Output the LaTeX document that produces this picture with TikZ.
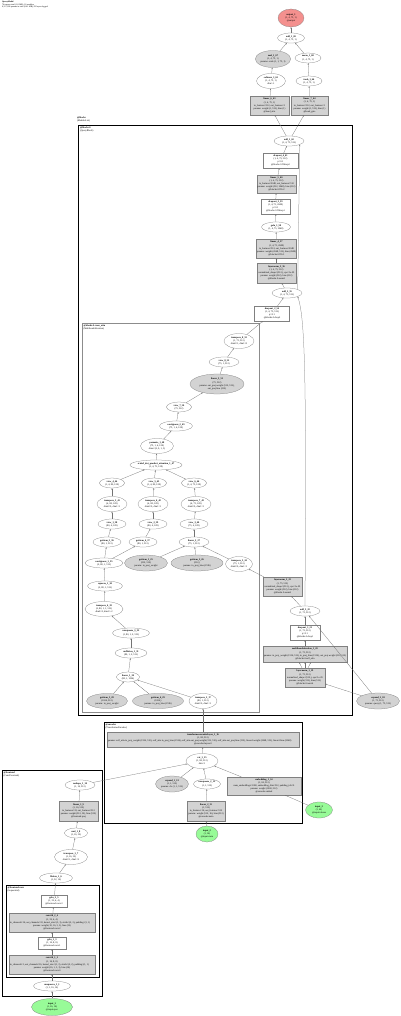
\documentclass[tikz,border=0pt]{standalone}
\usepackage{fontspec}
\setmainfont{Liberation Serif}
\usetikzlibrary{arrows.meta,positioning,shapes.geometric}
\definecolor{parfill}{HTML}{D3D3D3}
\definecolor{infill}{HTML}{98FB98}
\definecolor{outfill}{HTML}{F4908E}
\newcommand{\gvfont}{\fontsize{2.4}{3.1}\selectfont}

\begin{document}
\begin{tikzpicture}[x=1pt, y=-1pt,
    op/.style={ellipse, draw=black!50, line width=0.25pt, inner sep=0pt,
                align=center, font=\gvfont},
    parop/.style={op, fill=parfill},
    inop/.style={op, fill=infill},
    outop/.style={op, fill=outfill},
    mod/.style={rectangle, draw=black!50, line width=0.25pt, inner sep=0.6pt,
                align=center, font=\gvfont},
    parmod/.style={mod, fill=parfill},
    sz/.style 2 args={minimum width=#1pt, minimum height=#2pt},
    modbox/.style={draw=black, line width=0.7pt},
    clabel/.style={anchor=north west, align=left, inner sep=0.4pt, font=\gvfont},
    arr/.style={-{Stealth[length=1.6pt, width=1.2pt]}, line width=0.25pt, draw=black!55},
]
\fill[white] (0,0) rectangle (400,1016);
\useasboundingbox (0,0) rectangle (400,1016);

% --- Header ---
\node[clabel, font=\fontsize{2.1}{2.4}\selectfont] (title) at (1.5,0.8)
  {\textbf{QueryModel}\\70 tensors total (1.8 MB), 12 modules\\6,317,186 params in total (24.1 MB), 92 layers logged};

% --- Module boxes ---
\draw[modbox, double, double distance=0.7pt, line width=0.45pt] (75.5,115.5) rectangle (354.5,718.5);
\node[clabel] (lblblocks) at (76.5,116.5) {\textbf{@blocks}\\(ModuleList)};
\draw[modbox] (78.5,125) rectangle (352,715);
\node[clabel] (lblblock) at (79.5,126) {\textbf{@blocks.0}\\(QueryBlock)};
\draw[modbox, draw=black!45] (82,323) rectangle (259,712);
\node[clabel] (lblattn) at (83,324) {\textbf{@blocks.0.cross\_attn}\\(MultiheadAttention)};
\draw[modbox] (104,722) rectangle (302,823);
\node[clabel] (lblenc) at (105,723) {\textbf{@encoder}\\(TransformerEncoder)};
\draw[modbox] (2,770) rectangle (102,996);
\node[clabel] (lblfront) at (3,771) {\textbf{@frontend}\\(ConvFrontend)};
\draw[modbox] (6,885) rectangle (99,977);
\node[clabel] (lblconv) at (7,886) {\textbf{@frontend.conv}\\(Sequential)};

% --- Output heads ---
\node[outop, sz={26}{18}] (out1) at (291,18) {\textbf{output\_1}\\(1, 4, 75, 1)\\@output};
\node[op, sz={27}{10}] (add69) at (291,38) {\textbf{add\_1\_69}\\(1, 4, 75, 1)};
\node[parop, sz={33}{17}] (mul67) at (273,59) {\textbf{mul\_1\_67}\\(1, 4, 75, 1)\\params: scale (1, 1, 75, 1)};
\node[op, sz={26}{10}] (mean68) at (308,58) {\textbf{mean\_1\_68}\\(1, 4, 75, 1)};
\node[op, sz={29}{15}] (soft65) at (271,81) {\textbf{softmax\_1\_65}\\(1, 4, 75, 1)\\dim=-1};
\node[op, sz={26}{10}] (tanh66) at (309,81) {\textbf{tanh\_1\_66}\\(1, 4, 75, 1)};
\node[parmod, sz={39}{19}] (lin63) at (269.5,105.5) {\textbf{linear\_6\_63}\\(1, 4, 75, 1)\\in\_features=512, out\_features=1\\params: weight (1, 512), bias (1)\\@head\_attn};
\node[parmod, sz={37}{19}] (lin64) at (309.5,105.5) {\textbf{linear\_7\_64}\\(1, 4, 75, 1)\\in\_features=512, out\_features=1\\params: weight (1, 512), bias (1)\\@head\_gate};

% --- Feed-forward part of the block ---
\node[op, sz={30}{10}] (add62) at (289,141) {\textbf{add\_1\_62}\\(1, 4, 75, 512)};
\node[mod, sz={35}{15}] (drop61) at (280.5,160.5) {\textbf{dropout\_4\_61}\\(1, 4, 75, 512)\\p=0.1\\@blocks.0.ff.drop2};
\node[parmod, sz={39}{18}] (lin60) at (276.5,184) {\textbf{linear\_5\_60}\\(1, 4, 75, 512)\\in\_features=2048, out\_features=512\\params: weight (512, 2048), bias (512)\\@blocks.0.ff.fc2};
\node[mod, sz={29}{15}] (drop59) at (275.5,206.5) {\textbf{dropout\_3\_59}\\(1, 4, 75, 2048)\\p=0.1\\@blocks.0.ff.drop1};
\node[op, sz={29}{10}] (gelu58) at (276,227) {\textbf{gelu\_1\_58}\\(1, 4, 75, 2048)};
\node[parmod, sz={39}{19}] (lin57) at (276.5,248.5) {\textbf{linear\_4\_57}\\(1, 4, 75, 2048)\\in\_features=512, out\_features=2048\\params: weight (2048, 512), bias (2048)\\@blocks.0.ff.fc1};
\node[parmod, sz={39}{20}] (ln56) at (276.5,273) {\textbf{layernorm\_3\_56}\\(1, 4, 75, 512)\\normalized\_shape=(512,), eps=1e-05\\params: weight (512), bias (512)\\@blocks.0.norm3};
\node[op, sz={30}{10}] (add55) at (287,293) {\textbf{add\_2\_55}\\(1, 4, 75, 512)};
\node[mod, sz={35}{15}] (drop54) at (272,313.5) {\textbf{dropout\_2\_54}\\(1, 4, 75, 512)\\p=0.1\\@blocks.0.drop2};

% --- Cross attention ---
\node[op, sz={30}{15}] (tr53) at (239,341) {\textbf{transpose\_8\_53}\\(1, 75, 512)\\dim0=1, dim1=0};
\node[op, sz={30}{10}] (view52) at (224,362) {\textbf{view\_8\_52}\\(75, 1, 512)};
\node[parop, sz={54}{20}] (lin51) at (217,384) {\textbf{linear\_3\_51}\\(75, 512)\\params: out\_proj.weight (512, 512),\\out\_proj.bias (512)};
\node[op, sz={25}{10}] (view50) at (179,407) {\textbf{view\_7\_50}\\(75, 512)};
\node[op, sz={33}{10}] (cont49) at (176,426) {\textbf{contiguous\_2\_49}\\(75, 1, 4, 128)};
\node[op, sz={33}{15}] (perm48) at (157,446) {\textbf{permute\_1\_48}\\(75, 1, 4, 128)\\dims=(2, 0, 1, 3)};
\node[op, sz={52}{10}] (sdpa47) at (156,465) {\textbf{scaled\_dot\_product\_attention\_1\_47}\\(1, 4, 75, 128)};
\node[op, sz={25}{10}] (view44) at (112,483) {\textbf{view\_4\_44}\\(1, 4, 80, 128)};
\node[op, sz={25}{10}] (view45) at (154,483) {\textbf{view\_5\_45}\\(1, 4, 80, 128)};
\node[op, sz={25}{10}] (view46) at (194,483) {\textbf{view\_6\_46}\\(1, 4, 75, 128)};
\node[op, sz={30}{15}] (tr41) at (112,504) {\textbf{transpose\_5\_41}\\(4, 80, 128)\\dim0=0, dim1=1};
\node[op, sz={30}{15}] (tr42) at (153,504) {\textbf{transpose\_6\_42}\\(4, 80, 128)\\dim0=0, dim1=1};
\node[op, sz={30}{15}] (tr43) at (196,504) {\textbf{transpose\_7\_43}\\(4, 75, 128)\\dim0=0, dim1=1};
\node[op, sz={28}{10}] (view38) at (112,524) {\textbf{view\_1\_38}\\(80, 4, 128)};
\node[op, sz={28}{10}] (view39) at (153,524) {\textbf{view\_2\_39}\\(80, 4, 128)};
\node[op, sz={28}{10}] (view40) at (194,524) {\textbf{view\_3\_40}\\(75, 4, 128)};
\node[op, sz={28}{10}] (get36) at (107,542) {\textbf{getitem\_3\_36}\\(80, 1, 512)};
\node[op, sz={28}{10}] (get37) at (143,542) {\textbf{getitem\_4\_37}\\(80, 1, 512)};
\node[op, sz={30}{10}] (lin27) at (194,542) {\textbf{linear\_2\_27}\\(75, 1, 512)};
\node[op, sz={38}{10}] (cont35) at (104,563) {\textbf{contiguous\_1\_35}\\(2, 80, 1, 512)};
\node[parop, sz={43}{16}] (getw25) at (146,563) {\textbf{getitem\_1\_25}\\(512, 512)\\params: in\_proj\_weight};
\node[parop, sz={52}{16}] (getb26) at (197,563) {\textbf{getitem\_2\_26}\\(512,)\\params: in\_proj\_bias (1536)};
\node[op, sz={27}{15}] (tr24) at (239,564) {\textbf{transpose\_3\_24}\\(75, 1, 512)\\dim0=0, dim1=1};
\node[op, sz={35}{10}] (sq34) at (105,586) {\textbf{squeeze\_1\_34}\\(2, 80, 1, 512)};
\node[op, sz={38}{15}] (tr33) at (104,609) {\textbf{transpose\_4\_33}\\(2, 80, 1, 1, 512)\\dim0=0, dim1=-2};
\node[op, sz={37}{10}] (unsq32) at (131,633) {\textbf{unsqueeze\_3\_32}\\(1, 80, 1, 2, 512)};
\node[op, sz={32}{10}] (unf31) at (131,653) {\textbf{unflatten\_1\_31}\\(80, 1, 2, 512)};
\node[op, sz={23}{10}] (lin30) at (128,677) {\textbf{linear\_1\_30}\\(80, 1, 1024)};
\node[parop, sz={41}{15}] (getw28) at (107,701) {\textbf{getitem\_5\_28}\\(1024, 512)\\params: in\_proj\_weight};
\node[parop, sz={51}{15}] (getb29) at (158,701) {\textbf{getitem\_6\_29}\\(1024,)\\params: in\_proj\_bias (1536)};
\node[op, sz={28}{15}] (tr17) at (203,701) {\textbf{transpose\_2\_17}\\(80, 1, 512)\\dim0=0, dim1=1};

% --- Self attention part of the block ---
\node[parmod, sz={39}{19}] (ln23) at (282.5,586.5) {\textbf{layernorm\_2\_23}\\(1, 75, 512)\\normalized\_shape=(512,), eps=1e-05\\params: weight (512), bias (512)\\@blocks.0.norm2};
\node[op, sz={30}{10}] (add22) at (305,611) {\textbf{add\_3\_22}\\(1, 75, 512)};
\node[mod, sz={30}{15}] (drop21) at (305,632.5) {\textbf{dropout\_1\_21}\\(1, 75, 512)\\p=0.1\\@blocks.0.drop1};
\node[parmod, sz={84}{16}] (mha20) at (305,654) {\textbf{multiheadattention\_1\_20}\\(1, 75, 512)\\\makebox[82pt][l]{params: in\_proj\_weight (1536, 512), in\_proj\_bias (1536), out\_proj.weight (512, 512)}\\@blocks.0.self\_attn};
\node[parmod, sz={40}{19}] (ln19) at (305,677.5) {\textbf{layernorm\_1\_19}\\(1, 75, 512)\\normalized\_shape=(512,), eps=1e-05\\params: weight (512), bias (512)\\@blocks.0.norm1};
\node[parop, sz={43}{16}] (query18) at (378,701) {\textbf{expand\_2\_18}\\(1, 75, 512)\\params: query (1, 75, 512)};

% --- Encoder ---
\node[parmod, sz={192}{15}] (enc16) at (203,739.5) {\textbf{transformerencoderlayer\_1\_16}\\(1, 80, 512)\\\makebox[190pt][l]{params: self\_attn.in\_proj\_weight (1536, 512), self\_attn.in\_proj\_bias (1536), self\_attn.out\_proj.weight (512, 512), self\_attn.out\_proj.bias (512), linear1.weight (2048, 512), linear1.bias (2048)}\\@encoder.layers.0};
\node[op, sz={32}{15}] (cat15) at (202,761) {\textbf{cat\_1\_15}\\(1, 80, 512)\\dim=1};
\node[parop, sz={33}{16}] (cls13) at (172,784) {\textbf{expand\_1\_13}\\(1, 1, 512)\\params: cls (1, 1, 512)};
\node[op, sz={27}{10}] (unsq12) at (207,784) {\textbf{unsqueeze\_2\_12}\\(1, 1, 512)};
\node[parmod, sz={74}{18}] (emb14) at (264,786) {\textbf{embedding\_1\_14}\\(1, 62, 512)\\num\_embeddings=1000, embedding\_dim=512, padding\_idx=0\\params: weight (1000, 512)\\@encoder.embed};
\node[parmod, sz={38}{20}] (lin11) at (206,811) {\textbf{linear\_2\_11}\\(1, 512)\\in\_features=16, out\_features=512\\params: weight (512, 16), bias (512)\\@encoder.meta};
\node[inop, sz={22}{16}] (in2) at (207,834) {\textbf{input\_2}\\(1, 16)\\@input.meta};
\node[inop, sz={27}{16}] (in3) at (319,810) {\textbf{input\_3}\\(1, 62)\\@input.tokens};

% --- Frontend ---
\node[op, sz={30}{10}] (resh10) at (80,785) {\textbf{reshape\_1\_10}\\(1, 16, 512)};
\node[parmod, sz={39}{20}] (lin9) at (78.5,811) {\textbf{linear\_1\_9}\\(1, 16, 512)\\in\_features=32, out\_features=512\\params: weight (512, 32), bias (512)\\@frontend.proj};
\node[op, sz={23}{10}] (mul8) at (76,833) {\textbf{mul\_1\_8}\\(1, 16, 32)};
\node[op, sz={33}{15}] (tr7) at (71,857) {\textbf{transpose\_1\_7}\\(1, 16, 32)\\dim0=1, dim1=2};
\node[op, sz={33}{10}] (flat6) at (56,878) {\textbf{flatten\_1\_6}\\(1, 32, 16)};
\node[mod, sz={26}{12}] (gelu5) at (54,901) {\textbf{gelu\_2\_5}\\(1, 32, 4, 4)\\@frontend.conv.3};
\node[parmod, sz={86}{19}] (conv4) at (52,922.5) {\textbf{conv2d\_2\_4}\\(1, 32, 4, 4)\\\makebox[84pt][l]{in\_channels=16, out\_channels=32, kernel\_size=(3, 3), stride=(2, 2), padding=(1, 1)}\\params: weight (32, 16, 3, 3), bias (32)\\@frontend.conv.2};
\node[mod, sz={28}{12}] (gelu3) at (52,943) {\textbf{gelu\_1\_3}\\(1, 16, 8, 8)\\@frontend.conv.1};
\node[parmod, sz={86}{19}] (conv2) at (52,964.5) {\textbf{conv2d\_1\_2}\\(1, 16, 8, 8)\\\makebox[84pt][l]{in\_channels=1, out\_channels=16, kernel\_size=(3, 3), stride=(2, 2), padding=(1, 1)}\\params: weight (16, 1, 3, 3), bias (16)\\@frontend.conv.0};
\node[op, sz={37}{10}] (unsq1) at (52,986) {\textbf{unsqueeze\_1\_1}\\(1, 1, 16, 16)};
\node[inop, sz={41}{17}] (in1) at (52,1007) {\textbf{input\_1}\\(1, 16, 16)\\@input.spec};

% --- Connectors: output heads ---
\draw[arr] (add69) -- (out1);
\draw[arr] (mul67) -- (add69);
\draw[arr] (mean68) -- (add69);
\draw[arr] (soft65) -- (mul67);
\draw[arr] (tanh66) -- (mean68);
\draw[arr] (lin63) -- (soft65);
\draw[arr] (lin64) -- (tanh66);
\draw[arr] (add62) -- (lin63);
\draw[arr] (add62) -- (lin64);

% --- Connectors: feed-forward ---
\draw[arr] (drop61) -- (add62);
\draw[arr] (lin60) -- (drop61);
\draw[arr] (drop59) -- (lin60);
\draw[arr] (gelu58) -- (drop59);
\draw[arr] (lin57) -- (gelu58);
\draw[arr] (ln56) -- (lin57);
\draw[arr] (add55) -- (ln56);
\draw[arr] (add55.north east) -- (add62.south east);
\draw[arr] (drop54) -- (add55);

% --- Connectors: cross attention ---
\draw[arr] (tr53) -- (drop54);
\draw[arr] (view52) -- (tr53);
\draw[arr] (lin51) -- (view52);
\draw[arr] (view50) -- (lin51);
\draw[arr] (cont49) -- (view50);
\draw[arr] (perm48) -- (cont49);
\draw[arr] (sdpa47) -- (perm48);
\draw[arr] (view44) -- (sdpa47);
\draw[arr] (view45) -- (sdpa47);
\draw[arr] (view46) -- (sdpa47);
\draw[arr] (tr41) -- (view44);
\draw[arr] (tr42) -- (view45);
\draw[arr] (tr43) -- (view46);
\draw[arr] (view38) -- (tr41);
\draw[arr] (view39) -- (tr42);
\draw[arr] (view40) -- (tr43);
\draw[arr] (get36) -- (view38);
\draw[arr] (get37) -- (view39);
\draw[arr] (lin27) -- (view40);
\draw[arr] (cont35) -- (get36);
\draw[arr] (cont35) -- (get37);
\draw[arr] (getw25) -- (lin27);
\draw[arr] (getb26) -- (lin27);
\draw[arr] (tr24) -- (lin27);
\draw[arr] (sq34) -- (cont35);
\draw[arr] (tr33) -- (sq34);
\draw[arr] (unsq32) -- (tr33);
\draw[arr] (unf31) -- (unsq32);
\draw[arr] (lin30) -- (unf31);
\draw[arr] (getw28) -- (lin30);
\draw[arr] (getb29) -- (lin30);
\draw[arr] (tr17) -- (lin30);

% --- Connectors: self attention ---
\draw[arr] (ln23) -- (tr24);
\draw[arr] (add22) -- (ln23);
\draw[arr] (add22.north) .. controls (306,400) and (306,320) .. (add55.south east);
\draw[arr] (drop21) -- (add22);
\draw[arr] (mha20) -- (drop21);
\draw[arr] ([xshift=-3pt]ln19.north) -- ([xshift=-6pt]mha20.south);
\draw[arr] (ln19.north) -- (mha20.south);
\draw[arr] ([xshift=3pt]ln19.north) -- ([xshift=6pt]mha20.south);
\draw[arr] (query18) -- (ln19);
\draw[arr] (query18) -- (add22);

% --- Connectors: encoder and frontend ---
\draw[arr] (enc16) -- (tr17);
\draw[arr] (cat15) -- (enc16);
\draw[arr] (cls13) -- (cat15);
\draw[arr] (unsq12) -- (cat15);
\draw[arr] (emb14) -- (cat15);
\draw[arr] (resh10) -- (cat15);
\draw[arr] (lin11) -- (unsq12);
\draw[arr] (in2) -- (lin11);
\draw[arr] (in3) -- (emb14);
\draw[arr] (lin9) -- (resh10);
\draw[arr] (mul8) -- (lin9);
\draw[arr] (tr7) -- (mul8);
\draw[arr] (flat6) -- (tr7);
\draw[arr] (gelu5) -- (flat6);
\draw[arr] (conv4) -- (gelu5);
\draw[arr] (gelu3) -- (conv4);
\draw[arr] (conv2) -- (gelu3);
\draw[arr] (unsq1) -- (conv2);
\draw[arr] (in1) -- (unsq1);

\end{tikzpicture}
\end{document}
